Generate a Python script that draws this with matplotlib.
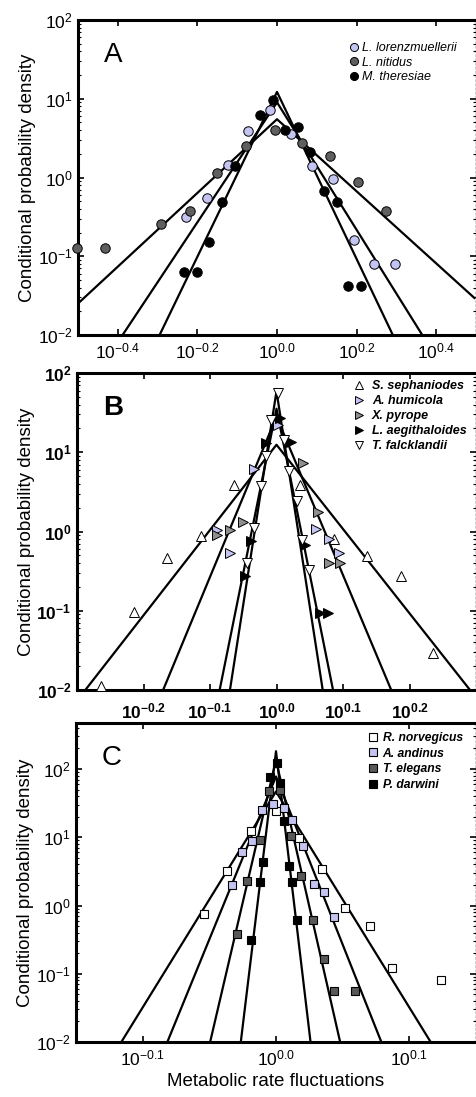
import numpy as np
import matplotlib
matplotlib.use("Agg")
import matplotlib.pyplot as plt
from matplotlib.lines import Line2D

plt.rcParams['font.family'] = ['Liberation Sans', 'DejaVu Sans']
plt.rcParams['mathtext.fontset'] = 'custom'
plt.rcParams['mathtext.rm'] = 'Liberation Sans'
plt.rcParams['mathtext.it'] = 'Liberation Sans:italic'
plt.rcParams['mathtext.bf'] = 'Liberation Sans:bold'

# ---------------- Panel A data (log10 values) ----------------
a_names = ["L. lorenzmuellerii", "L. nitidus", "M. theresiae"]
a_lor_lx = [-0.229, -0.175, -0.1225, -0.0725, -0.0167, 0.0358, 0.0875, 0.14, 0.1925, 0.244, 0.297]
a_lor_ly = [-0.507, -0.258, 0.156, 0.588, 0.863, 0.558, 0.148, -0.025, -0.795, -1.104, -1.104]
a_nit_lx = [-0.502, -0.432, -0.292, -0.219, -0.15, -0.078, -0.006, 0.0625, 0.133, 0.204, 0.275]
a_nit_ly = [-0.90, -0.90, -0.596, -0.423, 0.063, 0.397, 0.609, 0.444, 0.279, -0.055, -0.423]
a_the_lx = [-0.2325, -0.2, -0.171, -0.1375, -0.106, -0.043, -0.011, 0.021, 0.0525, 0.083, 0.117, 0.15, 0.1775, 0.211]
a_the_ly = [-1.201, -1.201, -0.825, -0.309, 0.148, 0.791, 0.981, 0.609, 0.643, 0.326, -0.169, -0.317, -1.378, -1.378]
# fitted lines: (left end, peak, right end) in log10
a_fit_lx = [[-0.5, 0.0, 0.496], [-0.388, 0.0, 0.365], [-0.295, 0.0, 0.291]]
a_fit_ly = [[-1.60, 0.74, -1.53], [-2.0, 0.955, -2.0], [-2.0, 1.087, -2.0]]

# ---------------- Panel B data ----------------
b_names = ["S. sephaniodes", "A. humicola", "X. pyrope", "L. aegithaloides", "T. falcklandii"]
b_sep_lx = [-0.264, -0.214, -0.164, -0.114, -0.064, 0.036, 0.086, 0.136, 0.187, 0.236]
b_sep_ly = [-1.949, -1.011, -0.337, -0.051, 0.589, 0.589, -0.093, -0.303, -0.556, -1.537]
b_hum_lx = [-0.089, -0.0705, -0.034, 0.0025, 0.0595, 0.0785, 0.0945]
b_hum_ly = [0.021, -0.274, 0.792, 1.347, 0.034, -0.093, -0.274]
b_pyr_lx = [-0.089, -0.0705, -0.0505, 0.0395, 0.0625, 0.0785, 0.096]
b_pyr_ly = [-0.042, 0.021, 0.118, 0.863, 0.24, -0.4, -0.4]
b_aeg_lx = [-0.048, -0.038, -0.0165, 0.006, 0.022, 0.0425, 0.066, 0.0775]
b_aeg_ly = [-0.556, -0.126, 1.116, 1.432, 1.124, -0.168, -1.032, -1.032]
b_fal_lx = [-0.044, -0.034, -0.024, -0.0165, -0.009, 0.0025, 0.011, 0.0185, 0.031, 0.0385, 0.0485]
b_fal_ly = [-0.4, 0.042, 0.568, 0.947, 1.411, 1.747, 1.158, 0.758, 0.379, -0.105, -0.484]
b_fit_lx = [[-0.2875, 0.0, 0.291], [-0.1705, 0.0, 0.1725], [-0.0855, 0.0, 0.085], [-0.07, 0.0, 0.0695]]
b_fit_ly = [[-2.0, 1.095, -2.0], [-2.0, 1.45, -2.0], [-2.0, 1.55, -2.0], [-2.0, 1.77, -2.0]]

# ---------------- Panel C data ----------------
c_names = ["R. norvegicus", "A. andinus", "T. elegans", "P. darwini"]
c_nor_lx = [-0.0538, -0.037, -0.019, 0.0, 0.0173, 0.0346, 0.0519, 0.0704, 0.0872, 0.1235]
c_nor_ly = [-0.12, 0.501, 1.096, 1.38, 0.989, 0.54, -0.037, -0.295, -0.916, -1.096]
c_and_lx = [-0.0328, -0.0254, -0.018, -0.0104, -0.0025, 0.0057, 0.0123, 0.0205, 0.0284, 0.0358, 0.0437]
c_and_ly = [0.305, 0.784, 0.94, 1.404, 1.492, 1.429, 1.258, 0.877, 0.315, 0.198, -0.168]
c_ele_lx = [-0.0296, -0.0215, -0.0123, -0.0049, 0.0032, 0.0111, 0.019, 0.0279, 0.0358, 0.0437, 0.0593]
c_ele_ly = [-0.413, 0.354, 0.965, 1.673, 1.697, 1.013, 0.427, -0.217, -0.784, -1.258, -1.258]
c_dar_lx = [-0.0185, -0.0119, -0.0099, -0.0042, 0.0007, 0.0032, 0.0062, 0.0099, 0.0123, 0.016]
c_dar_ly = [-0.51, 0.344, 0.632, 1.883, 2.088, 1.795, 1.243, 0.574, 0.339, -0.208]
c_fit_lx = [[-0.116, 0.0, 0.116], [-0.0815, 0.0, 0.079], [-0.0494, 0.0, 0.0481], [-0.0264, 0.0, 0.0259]]
c_fit_ly = [[-2.0, 1.67, -2.0], [-2.0, 1.89, -2.0], [-2.0, 2.13, -2.0], [-2.0, 2.26, -2.0]]

# tick labels
a_xticks = [-0.4, -0.2, 0.0, 0.2, 0.4]
a_xlabels = ["-0.4", "-0.2", "0.0", "0.2", "0.4"]
b_xticks = [-0.2, -0.1, 0.0, 0.1, 0.2]
b_xlabels = ["-0.2", "-0.1", "0.0", "0.1", "0.2"]
c_xticks = [-0.1, 0.0, 0.1]
c_xlabels = ["-0.1", "0.0", "0.1"]
yticks = [-2, -1, 0, 1, 2]
ylabels = ["-2", "-1", "0", "1", "2"]

LAV = '#c4c4f2'
GRAY_A = '#5f5f5f'
GRAY_B = '#8e8e8e'
GRAY_C = '#585858'

W, H = 477, 1097
fig = plt.figure(figsize=(W / 100, H / 100), dpi=100)


def mk_axes(l, r, t, b):
    return fig.add_axes([l / W, 1 - b / H, (r - l) / W, (b - t) / H])


def p10(v):
    return 10 ** np.asarray(v, dtype=float)


def style(ax, xlim_e, ylim_e, xt, xl, yt, yl, bold=False, xpad=5):
    ax.set_xscale('log')
    ax.set_yscale('log')
    ax.set_xlim(p10(xlim_e[0]), p10(xlim_e[1]))
    ax.set_ylim(p10(ylim_e[0]), p10(ylim_e[1]))
    fmt = r'$\mathbf{10^{%s}}$' if bold else r'$\mathregular{10^{%s}}$'
    ax.set_xticks(p10(xt))
    ax.set_xticklabels([fmt % s for s in xl])
    ax.xaxis.set_minor_locator(matplotlib.ticker.NullLocator())
    ax.set_yticks(p10(yt))
    ax.set_yticklabels([fmt % s for s in yl])
    ax.yaxis.set_minor_locator(matplotlib.ticker.LogLocator(base=10, subs=np.arange(2, 10)))
    ax.yaxis.set_minor_formatter(matplotlib.ticker.NullFormatter())
    ax.tick_params(which='major', direction='in', length=4, width=1.2,
                   top=True, right=True, labelsize=12.5, pad=4)
    ax.tick_params(axis='x', which='major', pad=xpad)
    ax.tick_params(which='minor', direction='in', length=2, width=0.8,
                   left=True, right=True)
    for s in ['left', 'top', 'bottom']:
        ax.spines[s].set_linewidth(2.2)
    ax.spines['right'].set_linewidth(1.0)
    ax.spines['right'].set_linestyle((0, (1, 2)))
    ax.set_ylabel('Conditional probability density', fontsize=13.5, labelpad=1)
    for lab in ax.get_xticklabels() + ax.get_yticklabels():
        lab.set_fontweight('bold' if bold else 'normal')


def draw_fits(ax, fx, fy):
    for lx, ly in zip(fx, fy):
        ax.plot(p10(lx), p10(ly), color='black', lw=1.6, zorder=2)


# ---------- Panel A ----------
axA = mk_axes(78, 476, 20, 335)
draw_fits(axA, a_fit_lx, a_fit_ly)
sA = [(a_lor_lx, a_lor_ly, LAV), (a_nit_lx, a_nit_ly, GRAY_A), (a_the_lx, a_the_ly, 'black')]
handles = []
for (lx, ly, c), name in zip(sA, a_names):
    axA.plot(p10(lx), p10(ly), 'o', ms=6.8, mfc=c, mec='black', mew=0.7,
             ls='none', zorder=3, clip_on=False)
    handles.append(Line2D([], [], marker='o', ms=5.8, mfc=c, mec='black', mew=0.7, ls='none', label=name))
style(axA, (-0.5, 0.5), (-2, 2), a_xticks, a_xlabels, yticks, ylabels)
axA.legend(handles=handles, loc='upper left', bbox_to_anchor=(0.678, 0.93), frameon=False,
           prop={'style': 'italic', 'size': 9}, handletextpad=0.15, handlelength=1.0,
           borderpad=0, labelspacing=0.2, borderaxespad=0)
axA.text(0.065, 0.89, 'A', transform=axA.transAxes, fontsize=20, va='center', ha='left')

# ---------- Panel B ----------
axB = mk_axes(77, 476, 373, 690)
draw_fits(axB, b_fit_lx, b_fit_ly)
sB = [(b_sep_lx, b_sep_ly, 'white', '^'), (b_hum_lx, b_hum_ly, LAV, '>'),
      (b_pyr_lx, b_pyr_ly, GRAY_B, '>'), (b_aeg_lx, b_aeg_ly, 'black', '>'),
      (b_fal_lx, b_fal_ly, 'white', 'v')]
handles = []
for (lx, ly, c, m), name in zip(sB, b_names):
    axB.plot(p10(lx), p10(ly), m, ms=6.8, mfc=c, mec='black', mew=0.7,
             ls='none', zorder=3, clip_on=False)
    handles.append(Line2D([], [], marker=m, ms=5.8, mfc=c, mec='black', mew=0.7, ls='none', label=name))
style(axB, (-0.3, 0.3), (-2, 2), b_xticks, b_xlabels, yticks, ylabels, bold=True, xpad=8)
axB.legend(handles=handles, loc='upper left', bbox_to_anchor=(0.692, 0.978), frameon=False,
           prop={'style': 'italic', 'weight': 'bold', 'size': 9}, handletextpad=0.5,
           handlelength=1.0, borderpad=0, labelspacing=0.25, borderaxespad=0)
axB.text(0.065, 0.89, 'B', transform=axB.transAxes, fontsize=20, va='center', ha='left',
         fontweight='bold')

# ---------- Panel C ----------
axC = mk_axes(76, 476, 723, 1042)
draw_fits(axC, c_fit_lx, c_fit_ly)
sC = [(c_nor_lx, c_nor_ly, 'white'), (c_and_lx, c_and_ly, LAV),
      (c_ele_lx, c_ele_ly, GRAY_C), (c_dar_lx, c_dar_ly, 'black')]
handles = []
for (lx, ly, c), name in zip(sC, c_names):
    axC.plot(p10(lx), p10(ly), 's', ms=5.8, mfc=c, mec='black', mew=0.8,
             ls='none', zorder=3, clip_on=False)
    handles.append(Line2D([], [], marker='s', ms=5.2, mfc=c, mec='black', mew=0.8, ls='none', label=name))
style(axC, (-0.15, 0.15), (-2, 2.674), c_xticks, c_xlabels, yticks, ylabels)
axC.legend(handles=handles, loc='upper left', bbox_to_anchor=(0.7275, 0.972), frameon=False,
           prop={'style': 'italic', 'weight': 'bold', 'size': 8.7}, handletextpad=0.3,
           handlelength=1.0, borderpad=0, labelspacing=0.3, borderaxespad=0)
axC.text(0.065, 0.89, 'C', transform=axC.transAxes, fontsize=20, va='center', ha='left')
axC.set_xlabel('Metabolic rate fluctuations', fontsize=13.5, labelpad=3)

fig.savefig('out.png', dpi=100)
